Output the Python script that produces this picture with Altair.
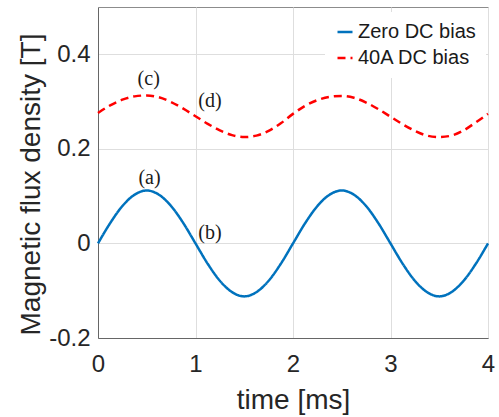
import altair as alt
import pandas as pd

# time axis samples [ms]
time_ms = [0.0, 0.125, 0.25, 0.375, 0.5, 0.625, 0.75, 0.875, 1.0,
           1.125, 1.25, 1.375, 1.5, 1.625, 1.75, 1.875, 2.0,
           2.125, 2.25, 2.375, 2.5, 2.625, 2.75, 2.875, 3.0,
           3.125, 3.25, 3.375, 3.5, 3.625, 3.75, 3.875, 4.0]

# Zero DC bias flux density [T]
zero_bias = [0.0, 0.043, 0.079, 0.103, 0.112, 0.103, 0.079, 0.043, 0.0,
             -0.043, -0.079, -0.103, -0.112, -0.103, -0.079, -0.043, 0.0,
             0.043, 0.079, 0.103, 0.112, 0.103, 0.079, 0.043, 0.0,
             -0.043, -0.079, -0.103, -0.112, -0.103, -0.079, -0.043, 0.0]

# 40A DC bias flux density [T]
dc_bias = [0.276, 0.292, 0.304, 0.311, 0.313, 0.309, 0.299, 0.285, 0.269,
           0.253, 0.239, 0.229, 0.225, 0.228, 0.238, 0.254, 0.274,
           0.291, 0.303, 0.310, 0.312, 0.308, 0.298, 0.284, 0.268,
           0.252, 0.238, 0.228, 0.225, 0.228, 0.239, 0.256, 0.274]

series_names = ["Zero DC bias", "40A DC bias"]
series_colors = ["#0072BD", "#FF0000"]

# annotation labels
label_text = ["(a)", "(b)", "(c)", "(d)"]
label_x = [0.528, 1.149, 0.52, 1.149]
label_y = [0.138, 0.022, 0.347, 0.302]

x_ticks = [0, 1, 2, 3, 4]
y_ticks = [-0.2, 0, 0.2, 0.4]

rows = []
for t, v in zip(time_ms, zero_bias):
    rows.append({"t": t, "B": v, "series": series_names[0]})
for t, v in zip(time_ms, dc_bias):
    rows.append({"t": t, "B": v, "series": series_names[1]})
df = pd.DataFrame(rows)

labels_df = pd.DataFrame({"t": label_x, "B": label_y, "text": label_text})

x_enc = alt.X("t:Q", scale=alt.Scale(domain=[0, 4], nice=False),
              axis=alt.Axis(values=x_ticks, title="time [ms]", format="d",
                            ticks=False, labelPadding=14, labelFlush=False,
                            titleY=70, titleBaseline="alphabetic"))
y_enc = alt.Y("B:Q", scale=alt.Scale(domain=[-0.2, 0.5], nice=False),
              axis=alt.Axis(values=y_ticks, title="Magnetic flux density [T]",
                            labelExpr="replace(datum.label, '\u2212', '-')",
                            format="~g", ticks=False, labelPadding=8,
                            labelFlush=False,
                            titleX=-67, titleY=177, titleAngle=270,
                            titleBaseline="middle", titleAlign="center"))

legend_cfg = dict(title=None, orient="none",
                  legendX=227, legendY=5,
                  symbolType="stroke", symbolSize=225,
                  symbolStrokeWidth=2.5,
                  labelFontSize=20, labelOffset=3,
                  rowPadding=6, padding=10,
                  fillColor="white",
                  labelFont="Liberation Sans",
                  labelColor="#1a1a1a")

lines = alt.Chart(df).mark_line(strokeWidth=2.5, interpolate="monotone").encode(
    x=x_enc,
    y=y_enc,
    color=alt.Color("series:N",
                    scale=alt.Scale(domain=series_names, range=series_colors),
                    legend=alt.Legend(**legend_cfg)),
    strokeDash=alt.StrokeDash("series:N",
                              scale=alt.Scale(domain=series_names,
                                              range=[[1, 0], [8, 5]]),
                              legend=alt.Legend(**legend_cfg)),
)

texts = alt.Chart(labels_df).mark_text(
    font="Liberation Serif", fontSize=20, color="#1a1a1a",
    align="center", baseline="middle"
).encode(x="t:Q", y="B:Q", text="text:N")

chart = alt.layer(lines, texts).properties(
    width=390, height=331,
    padding={"left": 98, "top": 7, "right": 11, "bottom": 79},
    autosize="none",
).configure_view(
    stroke="#8c8c8c", strokeWidth=1
).configure_axis(
    gridColor="#dedede", gridWidth=1,
    domainColor="#666666", domainWidth=1,
    labelColor="#262626", titleColor="#262626",
    labelFont="Liberation Sans", titleFont="Liberation Sans",
    labelFontSize=24, titleFontSize=28, titleFontWeight="normal",
)

chart.save("out.html", embed_options={"renderer": "svg", "actions": False})
